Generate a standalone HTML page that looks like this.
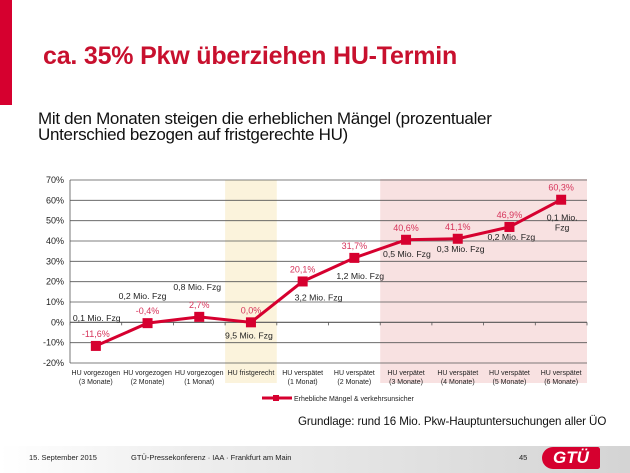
<!DOCTYPE html>
<html><head><meta charset="utf-8"><style>
body{margin:0;width:630px;height:473px;overflow:hidden;background:#fff;font-family:"Liberation Sans",sans-serif;position:relative}
.abs{position:absolute}
</style></head><body>
<div class="abs" style="left:0;top:0;width:12px;height:105px;background:#d6002f"></div>
<div class="abs" style="left:43px;top:42px;font-size:25px;font-weight:bold;color:#c8102e;letter-spacing:-0.2px">ca. 35% Pkw überziehen HU-Termin</div>
<div class="abs" style="left:38px;top:111px;font-size:17px;line-height:16px;color:#111;letter-spacing:-0.3px">Mit den Monaten steigen die erheblichen Mängel (prozentualer<br>Unterschied bezogen auf fristgerechte HU)</div>
<svg class="abs" style="left:0;top:0" width="630" height="473" id="chart"></svg>
<div class="abs" style="left:298px;top:415px;font-size:11.6px;letter-spacing:-0.1px;color:#111">Grundlage: rund 16 Mio. Pkw-Hauptuntersuchungen aller ÜO</div>
<div class="abs" style="left:0;top:446px;width:630px;height:27px;background:linear-gradient(to right,#fff 0%,#eee 30%,#d4d4d4 100%)"></div>
<div class="abs" style="left:29px;top:453px;font-size:7.5px;color:#222">15. September 2015</div>
<div class="abs" style="left:131px;top:453px;font-size:7.5px;color:#222">GTÜ-Pressekonferenz · IAA · Frankfurt am Main</div>
<div class="abs" style="left:519px;top:453px;font-size:7.5px;color:#222">45</div>
<div class="abs" style="left:542px;top:447px;width:58px;height:22px;background:#d6002f;border-radius:14px 3px 3px 14px;color:#fff;font-weight:bold;font-size:17px;line-height:22px;text-align:center;font-style:italic">GTÜ</div>
<script>
const categories=[["HU vorgezogen","(3 Monate)"],["HU vorgezogen","(2 Monate)"],["HU vorgezogen","(1 Monat)"],["HU fristgerecht",""],["HU verspätet","(1 Monat)"],["HU verspätet","(2 Monate)"],["HU verpätet","(3 Monate)"],["HU verspätet","(4 Monate)"],["HU verspätet","(5 Monate)"],["HU verspätet","(6 Monate)"]];
const values=[-11.6,-0.4,2.7,0.0,20.1,31.7,40.6,41.1,46.9,60.3];
const valueLabels=["-11,6%","-0,4%","2,7%","0,0%","20,1%","31,7%","40,6%","41,1%","46,9%","60,3%"];
const fleetLabels=["0,1 Mio. Fzg","0,2 Mio. Fzg","0,8 Mio. Fzg","9,5 Mio. Fzg","3,2 Mio. Fzg","1,2 Mio. Fzg","0,5 Mio. Fzg","0,3 Mio. Fzg","0,2 Mio. Fzg","0,1 Mio.|Fzg"];
const yTicks=[-20,-10,0,10,20,30,40,50,60,70];
const NS="http://www.w3.org/2000/svg";
const svg=document.getElementById('chart');
const L=70,R=587,T=180,B=363,yMin=-20,yMax=70;
const bw=(R-L)/categories.length;
const x=i=>L+bw*(i+0.5);
const y=v=>B-(v-yMin)/(yMax-yMin)*(B-T);
function el(tag,attrs,txt){const e=document.createElementNS(NS,tag);for(const k in attrs)e.setAttribute(k,attrs[k]);if(txt!==undefined)e.textContent=txt;svg.appendChild(e);return e;}
let e;
e=el('rect',{x:L+bw*3,y:T,width:bw,height:203,fill:'#fbf3dc'});


e=el('rect',{x:L+bw*6,y:T-1,width:bw*4,height:204,fill:'#f8e1e1'});


yTicks.forEach(t=>{
 e=el('line',{x1:L,x2:R,y1:y(t),y2:y(t),stroke:'#555','stroke-width':t===0?1.2:0.8});
 
 
 e=el('text',{x:L-6,y:y(t)+3,'text-anchor':'end','font-size':9,fill:'#222'},t+'%');
 
 
});
el('line',{x1:L,x2:L,y1:T,y2:B,stroke:'#555','stroke-width':0.8});
for(let i=0;i<=categories.length;i++){el('line',{x1:L+bw*i,x2:L+bw*i,y1:y(0),y2:y(0)+3,stroke:'#555','stroke-width':0.8});}
categories.forEach((c,i)=>{
 e=el('text',{x:x(i),y:375,'text-anchor':'middle','font-size':7,fill:'#222'},c[0]);
 
 
 if(c[1]){e=el('text',{x:x(i),y:384,'text-anchor':'middle','font-size':7,fill:'#222'},c[1]);
 
 }
});
e=el('polyline',{points:values.map((v,i)=>x(i)+','+y(v)).join(' '),fill:'none',stroke:'#d6002f','stroke-width':3});


const fleetOff=[[-23,-25,'start'],[-5,-24,'middle'],[-2,-27,'middle'],[-2,16,'middle'],[-8,19,'start'],[-18,21,'start'],[-23,17,'start'],[-21,13,'start'],[-22,13,'start'],[1,21,'middle']];
values.forEach((v,i)=>{
 e=el('rect',{x:x(i)-5,y:y(v)-5,width:10,height:10,fill:'#d6002f'});
 
 
 e=el('text',{x:x(i),y:y(v)-9,'text-anchor':'middle','font-size':9,fill:'#d6335a'},valueLabels[i]);
 
 
 const o=fleetOff[i];const parts=fleetLabels[i].split('|');
 parts.forEach((p,k)=>{
  e=el('text',{x:x(i)+o[0],y:y(v)+o[1]+k*10,'text-anchor':o[2],'font-size':8.7,fill:'#222'},p);
  
  
 });
});
e=el('line',{x1:262,x2:292,y1:398,y2:398,stroke:'#d6002f','stroke-width':3});


el('rect',{x:273,y:395,width:6,height:6,fill:'#d6002f'});
e=el('text',{x:294,y:401,'font-size':7,fill:'#222'},'Erhebliche Mängel & verkehrsunsicher');


</script>
</body></html>
